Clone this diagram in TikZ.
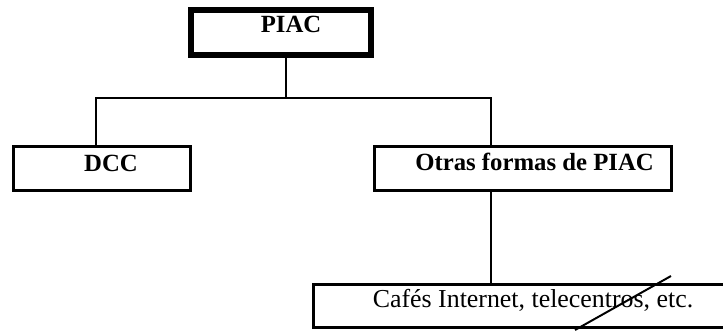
\documentclass[tikz,border=0pt]{standalone}
\usepackage{fontspec}
\setmainfont{Liberation Serif}
\tikzset{
  box/.style={draw, line width=2.1pt, inner sep=0pt},
  title/.style={font=\bfseries\fontsize{17.6}{20}\selectfont,
    inner sep=0pt, text height=0pt, text depth=0pt},
  plain/.style={font=\fontsize{18.4}{21}\selectfont,
    inner sep=0pt, text height=0pt, text depth=0pt},
  conn/.style={line width=1.4pt}
}
\begin{document}
\begin{tikzpicture}
\useasboundingbox (0,0) rectangle (18.075,8.275);
\clip (0,0) rectangle (18.075,8.275);
\node[box, line width=4pt, minimum width=4.5cm, minimum height=1.125cm,
  label={[title,xshift=.25cm]center:PIAC}] (piac) at (7.025,7.4625) {};
\node[box, minimum width=4.425cm, minimum height=1.1cm,
  label={[title,xshift=.225cm,yshift=-.0625cm]center:DCC}] (dcc) at (2.55,4.0625) {};
\node[box, minimum width=7.425cm, minimum height=1.1cm,
  label={[title,xshift=.2875cm,yshift=-.0375cm]center:Otras formas de PIAC}] (otras) at (13.075,4.0625) {};
\node[box, minimum width=10.4625cm, minimum height=1.075cm,
  label={[plain,xshift=.256cm,yshift=-.025cm]center:Cafés Internet, telecentros, etc.}] (cafes) at (13.069,.625) {};
% tree
\coordinate (split) at (7.15,5.825);
\draw[conn] ([xshift=.125cm]piac.south) -- (split);
\draw[conn] ([xshift=-.15cm]dcc.north) |- (split) -| ([xshift=-.8cm]otras.north);
\draw[conn] ([xshift=-.8cm]otras.south) -- ([xshift=-.8cm]otras.south |- cafes.north);
% stroke over the last box
\draw[line width=1.4pt] (16.775,1.375) -- (14.375,.025);
\end{tikzpicture}
\end{document}
